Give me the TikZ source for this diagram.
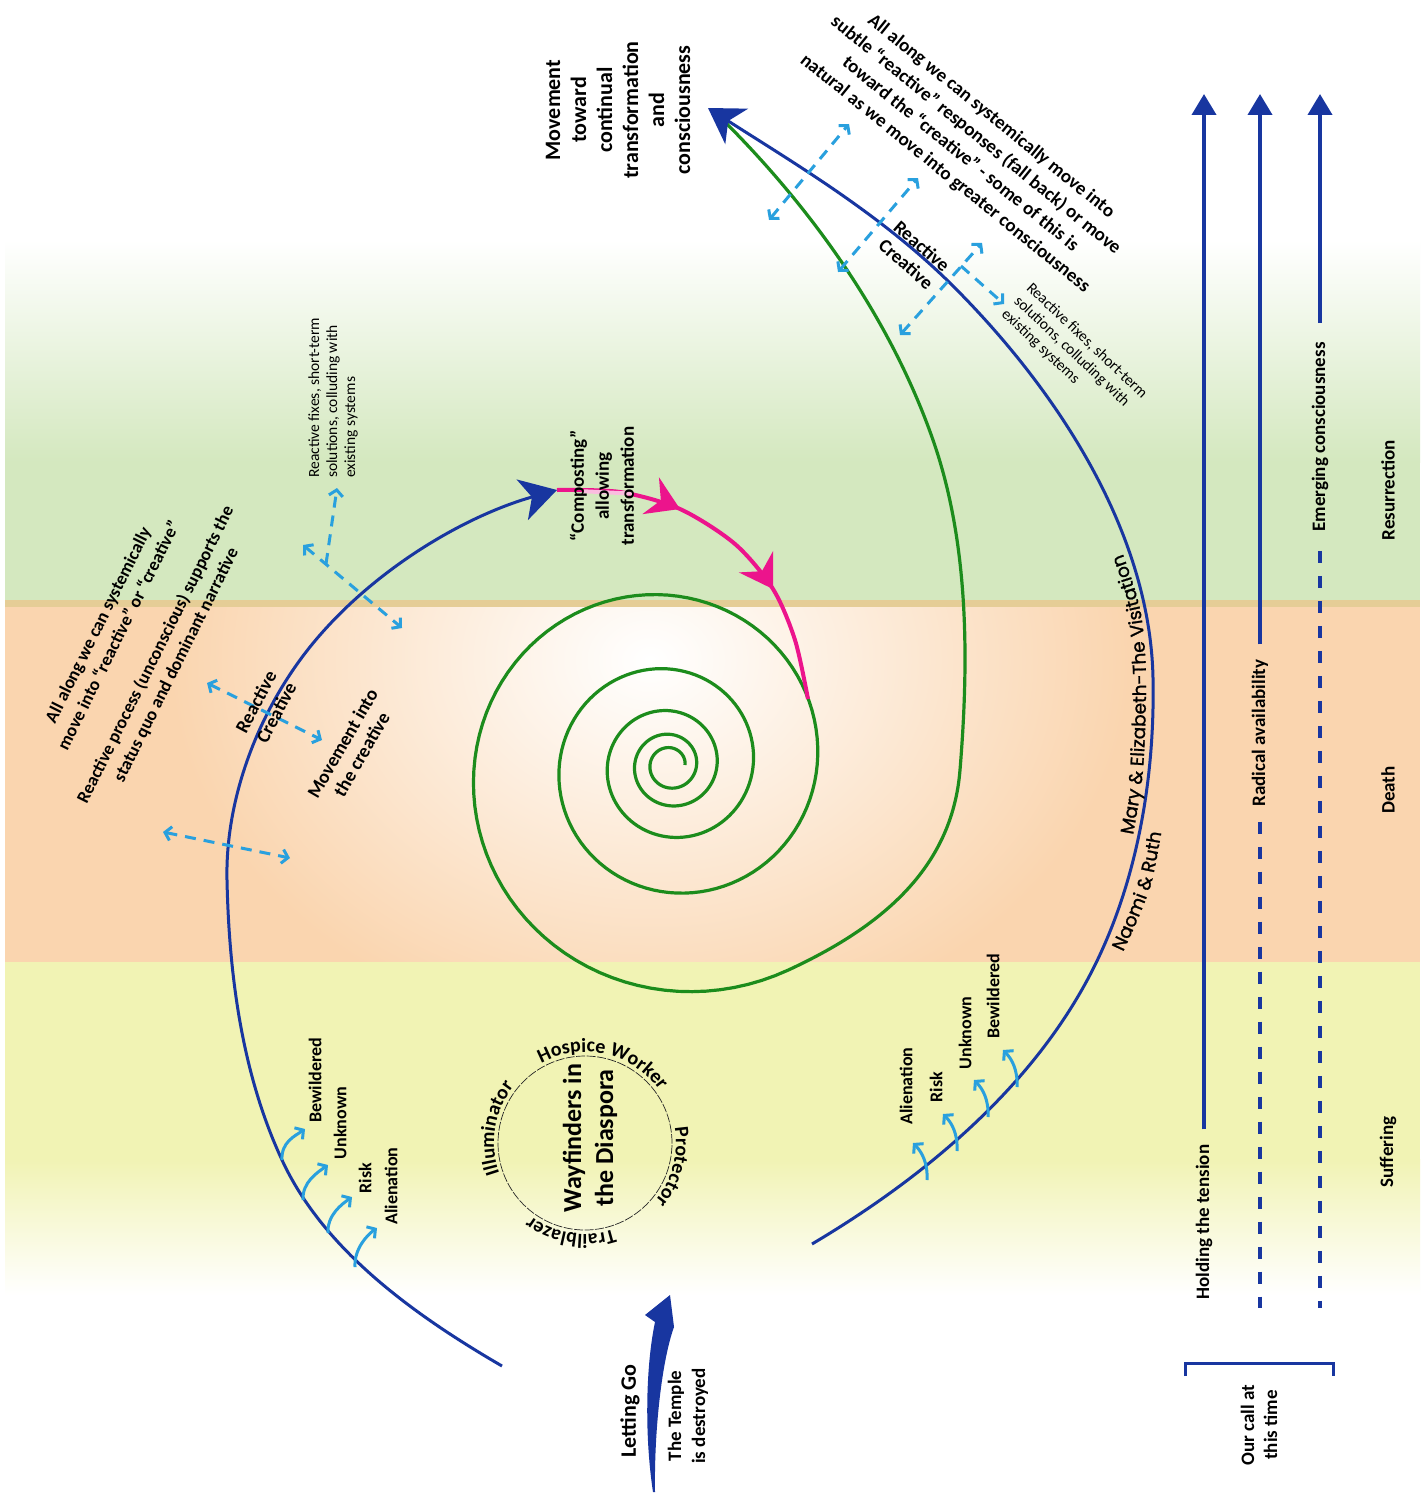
\documentclass[tikz,border=0pt]{standalone}
\usepackage{fontspec}
\setmainfont{Carlito}
\newfontfamily\gothic{Poppins}[FakeBold=1.2]
\usetikzlibrary{arrows.meta,decorations.text,decorations.markings}
\definecolor{bandgreen}{RGB}{212,232,191}
\definecolor{bandtan}{RGB}{229,205,150}
\definecolor{bandpeach}{RGB}{250,213,175}
\definecolor{bandyellow}{RGB}{241,243,180}
\definecolor{spiralgreen}{RGB}{28,140,28}
\definecolor{pathblue}{RGB}{24,54,160}
\definecolor{compost}{RGB}{236,20,140}
\definecolor{skyarrow}{RGB}{41,160,222}
\newcommand\fsz[2]{\fontsize{#1}{#2}\selectfont}
\tikzset{skytip/.tip={Straight Barb[length=6pt,width=14pt]}}
\begin{document}
\begin{tikzpicture}[x=1pt,y=-1pt,
    lbl/.style={inner sep=0pt,align=center,font=\bfseries\fsz{19}{23}},
    fixlbl/.style={inner sep=0pt,align=left,font=\fsz{15.5}{18}},
    spiral/.style={draw=spiralgreen,line width=3.2pt},
    bluearc/.style={draw=pathblue,line width=3pt},
    pinkarc/.style={draw=compost,line width=4pt},
    skycurl/.style={draw=skyarrow,line width=3pt,-skytip},
    skydash/.style={draw=skyarrow,line width=3pt,dash pattern=on 11pt off 8pt},
    callline/.style={draw=pathblue,line width=4pt},
    calldash/.style={callline,dash pattern=on 12pt off 13pt}]
\useasboundingbox (0,0) rectangle (1426,1493);
% bands
\fill[white] (0,0) rectangle (1426,1493);
\shade[top color=white,bottom color=bandgreen] (5,240) rectangle (1420,462);
\fill[bandgreen] (5,461) rectangle (1420,601);
\fill[bandtan] (5,600) rectangle (1420,607);
\fill[bandpeach] (5,607) rectangle (1420,962);
\begin{scope}
  \clip (5,607) rectangle (1420,962);
  \shade[inner color=white,outer color=bandpeach] (650,660) ellipse [x radius=480,y radius=380];
\end{scope}
\fill[bandyellow] (5,962) rectangle (1420,1160);
\shade[top color=bandyellow,bottom color=white] (5,1159) rectangle (1420,1295);

\coordinate (lefttip) at (557,490);
\coordinate (toptip) at (708,108);

% spiral
\draw[spiral] plot[domain=0:1740,samples=500]
    ({670+20*1.33^((\x-180)/180)*cos(\x)},{765-20*1.33^((\x-180)/180)*sin(\x)})
  .. controls (879,928) and (952,870) .. (960,770)
  .. controls (969,660) and (969,543) .. (933,440)
  .. controls (891,320) and (814,211) .. (724,121);

% composting path
\draw[pinkarc,postaction={decorate},decoration={markings,
    mark=at position 0.343 with {\arrow{Stealth[length=32pt,width=40pt,inset=11pt]}},
    mark=at position 0.683 with {\arrow{Stealth[length=32pt,width=40pt,inset=11pt]}}}]
  plot[smooth] coordinates {(lefttip) (620,492) (680,509) (735,544) (773,589) (795,640) (808,699)};
\draw[pinkarc,draw=compost!28] (584,491.3) -- (632,493.6);

% blue arcs
\draw[bluearc,-{Stealth[length=36pt,width=42pt,inset=10pt]}] (502,1366)
  .. controls (416,1316) and (324,1251) .. (282,1160)
  .. controls (242,1074) and (229,975) .. (227,880)
  .. controls (225,793) and (263,700) .. (320,635)
  .. controls (381,565) and (468,515) .. (lefttip);
\draw[bluearc,-{Stealth[length=34pt,width=42pt,inset=10pt]}] (812,1244)
  .. controls (925,1177) and (1034,1086) .. (1093,969)
  .. controls (1137.5,881) and (1155,777) .. (1153,678)
  .. controls (1150,530) and (1055,387) .. (950,283)
  .. controls (879,213) and (792,162) .. (toptip);

% small curled arrows
\foreach \bx/\by/\tx/\ty in {282/1160/305/1129,303/1200/328/1165,328/1233/352/1197,355/1267/377/1228}
  \draw[skycurl] (\bx,\by) .. controls (\bx-1,\by-18) and (\tx-10,\ty+7) .. (\tx,\ty);
\foreach \bx/\by/\tx/\ty in {927/1180/913/1143,957/1151/943/1114,988/1117/974/1080,1017/1087/1003/1050}
  \draw[skycurl] (\bx,\by) .. controls (\bx+1,\by-18) and (\tx+8,\ty+8) .. (\tx,\ty);

% dashed movements
\draw[skydash,skytip-skytip] (163,832) -- (290,858);
\draw[skydash,skytip-skytip] (207,683) -- (322,740);
\draw[skydash,skytip-skytip] (303,545) -- (402,628);
\draw[skydash,-skytip] (326,564) -- (337,488);
\draw[skydash,skytip-skytip] (769,220) -- (849,124);
\draw[skydash,skytip-skytip] (838,272) -- (918,178);
\draw[skydash,skytip-skytip] (900,335) -- (982,243);
\draw[skydash,-skytip] (961,266) -- (1004,304);

% letting go
\fill[pathblue] (653,1492) .. controls (645,1440) and (645,1370) .. (655,1322) -- (645,1315)
  -- (670,1295) -- (674,1327) .. controls (662,1360) and (654,1430) .. (655,1492) -- cycle;
\node[lbl,rotate=90,font=\bfseries\fsz{22}{26}] (letgo) at (630,1411) {Letting Go};
\node[lbl,rotate=90,font=\bfseries\fsz{19}{24}] (temple) at (688,1416) {The Temple\\is destroyed};

% wayfinders
\node[circle,draw=black!85,line width=0.7pt,dash pattern=on 9pt off 1.5pt,minimum size=174pt,inner sep=0pt] (wayring) at (585,1143) {};
\node[lbl,rotate=90,font=\bfseries\fsz{26}{32}] (wayname) at (590,1138) {Wayfinders in\\the Diaspora};
\path[decorate,decoration={text along path,text align=center,text={|\bfseries\fsz{20}{20}|Hospice Worker}}]
  (wayring.center) ++(-137:91) arc[start angle=-137,end angle=-17,radius=91];
\path[decorate,decoration={text along path,text align=center,text={|\bfseries\fsz{20}{20}|Protector}}]
  (wayring.center) ++(-34:91) arc[start angle=-34,end angle=64,radius=91];
\path[decorate,decoration={text along path,text align=center,text={|\bfseries\fsz{20}{20}|Trailblazer}}]
  (wayring.center) ++(50:91) arc[start angle=50,end angle=148,radius=91];
\path[decorate,decoration={text along path,text align=center,text={|\bfseries\fsz{20}{20}|Illuminator}}]
  (wayring.center) ++(-222:91) arc[start angle=-222,end angle=-119,radius=91];

% texts along the right arc
\path[decorate,decoration={text along path,text={|\gothic\fsz{18.5}{18.5}|Mary {\&} Elizabeth-The Visitation}}]
  plot[smooth] coordinates {(1133,835) (1143,770) (1146,678) (1140,609) (1118,542) (1095,505)};
\path[decorate,decoration={text along path,text={|\gothic\fsz{18.5}{18.5}|Naomi {\&} Ruth}}]
  plot[smooth] coordinates {(1123,952) (1151,884) (1168,790) (1172,740)};

% labels
\node[lbl,rotate=90,font=\bfseries\fsz{22}{26}] (goal) at (618,110)
  {Movement\\toward\\continual\\transformation\\and\\consciousness};
\node[lbl,rotate=-39,font=\bfseries\fsz{19}{24.5}] (alongR) at (968,145)
  {All along we can systemically move into\\subtle “reactive” responses (fall back) or move\\toward the “creative” - some of this is\\natural as we move into greater consciousness};
\node[lbl,rotate=-41,font=\bfseries\fsz{19}{24}] (rcR) at (914,255) {Reactive\\Creative};
\node[fixlbl,rotate=-43.5,anchor=west] (fixR) at (1016,299)
  {Reactive fixes, short-term\\solutions, colluding with\\existing systems};
\node[fixlbl,rotate=90,anchor=west] (fixL) at (333,478)
  {Reactive fixes, short-term\\solutions, colluding with\\existing systems};
\node[lbl,rotate=63.5,font=\bfseries\fsz{18}{23}] (alongL) at (108,630)
  {All along we can systemically\\move into “reactive” or “creative”};
\node[lbl,rotate=63.5,font=\bfseries\fsz{18}{23}] (procL) at (166,660)
  {Reactive process (unconscious) supports the\\status quo and dominant narrative};
\node[lbl,rotate=62,font=\bfseries\fsz{19}{23}] (rcL) at (266,707) {Reactive\\Creative};
\node[lbl,rotate=60,font=\bfseries\fsz{19}{22}] (intoL) at (352,749) {Movement into\\the creative};
\node[lbl,rotate=90,font=\bfseries\fsz{19}{25}] (compost) at (602,486) {“Composting”\\allowing\\transformation};

\node[lbl,rotate=90,font=\bfseries\fsz{18}{22}] (bewL) at (315,1080) {Bewildered};
\node[lbl,rotate=90,font=\bfseries\fsz{18}{22}] (unkL) at (340,1123) {Unknown};
\node[lbl,rotate=90,font=\bfseries\fsz{18}{22}] (riskL) at (365,1178) {Risk};
\node[lbl,rotate=90,font=\bfseries\fsz{18}{22}] (alienL) at (391,1186) {Alienation};
\node[lbl,rotate=90,font=\bfseries\fsz{18}{22}] (alienR) at (906,1086) {Alienation};
\node[lbl,rotate=90,font=\bfseries\fsz{18}{22}] (riskR) at (936,1087) {Risk};
\node[lbl,rotate=90,font=\bfseries\fsz{18}{22}] (unkR) at (965,1033) {Unknown};
\node[lbl,rotate=90,font=\bfseries\fsz{18}{22}] (bewR) at (993,996) {Bewildered};

% our call at this time
\coordinate (holdtop) at (1204,94);
\coordinate (radtop) at (1260,94);
\coordinate (radbot) at (1260,1308);
\coordinate (emtop) at (1320,94);
\coordinate (embot) at (1320,1308);
\node[lbl,rotate=90,inner xsep=15pt] (hold) at (1204,1222) {Holding the tension};
\node[lbl,rotate=90,inner xsep=15pt] (radical) at (1260,733) {Radical availability};
\node[lbl,rotate=90,inner xsep=19pt] (emerge) at (1320,437) {Emerging consciousness};
\draw[callline,-{Triangle[length=21pt,width=24pt]}] (hold.east) -- (holdtop);
\draw[callline,-{Triangle[length=21pt,width=24pt]}] (radical.east) -- (radtop);
\draw[calldash] (radical.west) -- (radbot);
\draw[callline,-{Triangle[length=21pt,width=24pt]}] (emerge.east) -- (emtop);
\draw[calldash] (emerge.west) -- (embot);
\draw[draw=pathblue,line width=3pt] (1185,1376) -- (1185,1363) -- (1333,1363) -- (1333,1376);
\node[lbl,rotate=90] (ourcall) at (1259,1425) {Our call at\\this time};

\node[lbl,rotate=90] (resur) at (1388,490) {Resurrection};
\node[lbl,rotate=90] (death) at (1388,790) {Death};
\node[lbl,rotate=90] (suffer) at (1388,1152) {Suffering};
\end{tikzpicture}
\end{document}
